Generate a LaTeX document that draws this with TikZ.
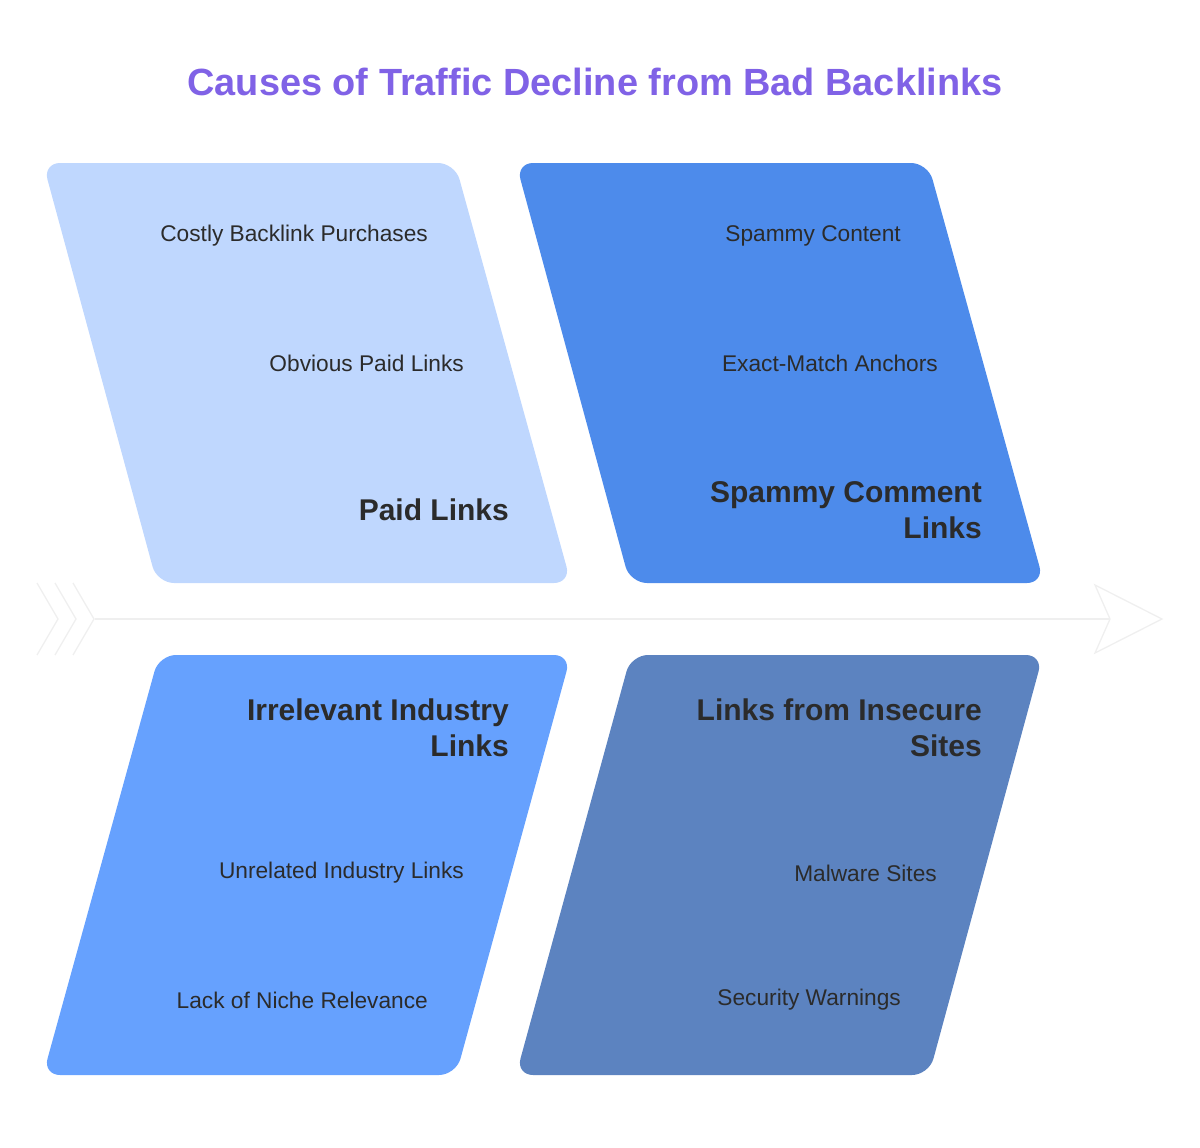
\documentclass[tikz,border=0pt]{standalone}
\usepackage{fontspec}
\setmainfont{Liberation Sans}
\usepackage{xcolor}
\definecolor{titlepurple}{HTML}{8062E6}
\definecolor{paidblue}{HTML}{BFD7FE}
\definecolor{spamblue}{HTML}{4D8BEB}
\definecolor{irrblue}{HTML}{66A1FE}
\definecolor{insecblue}{HTML}{5C83C0}
\definecolor{spinegray}{HTML}{EFEFEF}
\definecolor{textdark}{HTML}{2B2B2B}

\tikzset{
    bone/.style={rounded corners=17pt, draw=none},
    cause/.style={anchor=east, inner sep=0pt, text=textdark, font=\fontsize{22.7}{26}\selectfont},
    category/.style={anchor=east, inner sep=0pt, align=right, text=textdark, font=\fontsize{30}{36}\selectfont\bfseries},
    spine/.style={draw=spinegray, line width=1.3pt, line join=miter}
}

\begin{document}
\begin{tikzpicture}[x=1pt, y=-1pt]
        \useasboundingbox (0,0) rectangle (1200,1148);
        % title
        \node[font=\fontsize{37.9}{42}\selectfont\bfseries, text=titlepurple] (title) at (595,82) {Causes of Traffic Decline from Bad Backlinks};

        % spine with tail and head
        \coordinate (tail) at (95,619);
        \coordinate (head) at (1110,619);
        \draw[spine] (tail) -- (head);
        \foreach \dx in {0,18,36} {
            \draw[spine] (37+\dx,583) -- (58+\dx,619) -- (37+\dx,655);
        }
        \draw[spine] (head) -- (1095,585) -- (1162,619) -- (1095,653) -- cycle;

        % four bones
        \fill[bone, paidblue] (43,163) -- (455,163) -- (571,583) -- (157,583) -- cycle;
        \fill[bone, spamblue] (516,163) -- (928,163) -- (1044,583) -- (630,583) -- cycle;
        \fill[bone, irrblue] (159,655) -- (571,655) -- (456,1075) -- (43,1075) -- cycle;
        \fill[bone, insecblue] (631,655) -- (1043,655) -- (929,1075) -- (516,1075) -- cycle;

        % paid links
        \node[cause] (costly) at (428,236) {Costly Backlink Purchases};
        \node[cause] (obvious) at (464,363) {Obvious Paid Links};
        \node[category] (paid) at (509,510) {Paid Links};

        % spammy comment links
        \node[cause] (content) at (901,236) {Spammy Content};
        \node[cause] (anchors) at (938,363) {Exact-Match Anchors};
        \node[category] (spammy) at (982,510) {Spammy Comment\\Links};

        % irrelevant industry links
        \node[category] (irrelevant) at (509,728) {Irrelevant Industry\\Links};
        \node[cause] (unrelated) at (464,873) {Unrelated Industry Links};
        \node[cause] (niche) at (428,1000) {Lack of Niche Relevance};

        % links from insecure sites
        \node[category] (insecure) at (982,728) {Links from Insecure\\Sites};
        \node[cause] (malware) at (937,873) {Malware Sites};
        \node[cause] (warnings) at (901,1000) {Security Warnings};
    \end{tikzpicture}
\end{document}
